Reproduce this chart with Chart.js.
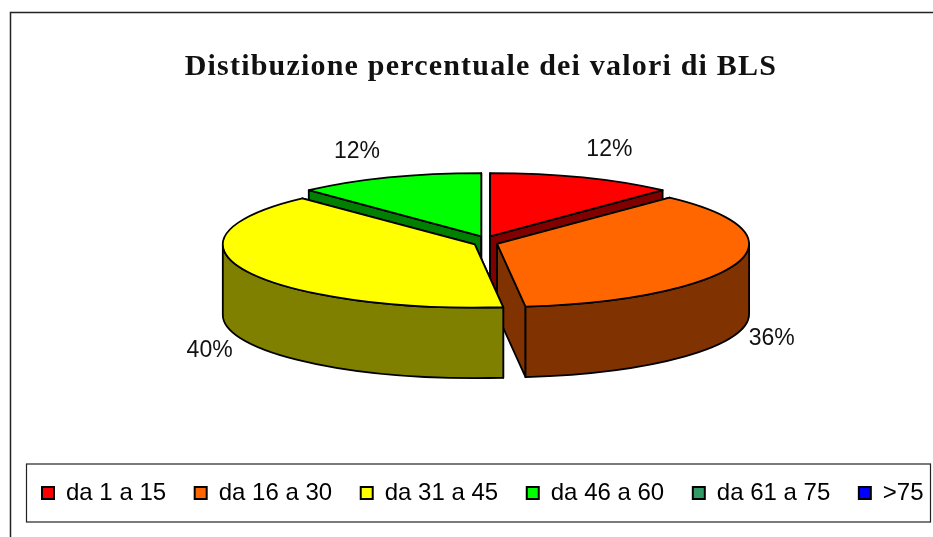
<!DOCTYPE html>
<html>
<head>
<meta charset="utf-8">
<style>
  html, body { margin: 0; padding: 0; background: #fff; }
  canvas { display: block; }
</style>
<script src="https://cdn.jsdelivr.net/npm/chart.js@4"></script>
</head>
<body>
<canvas id="graph" width="933" height="537"></canvas>
<script>
const categories = ['da 1 a 15', 'da 16 a 30', 'da 31 a 45', 'da 46 a 60', 'da 61 a 75', '>75'];
const percentages = [12, 36.2, 39.8, 12, 0, 0];
const sliceColors = ['#ff0000', '#ff6600', '#ffff00', '#00ff00', '#339966', '#0000ff'];
const wallColors = ['#800000', '#803300', '#808000', '#008000', '#1a4d33', '#000080'];
const chartTitle = 'Distibuzione percentuale dei valori di BLS';

// 3D look of the old office chart
const squash = 0.251;
const depth = 70.5;
const explodeY = 0.5;
const shiftX = 12.5;
const shiftY = -26.8;
const labelNudge = [[26.5, -28], [35.5, 75], [-36.5, 80], [-31.5, -26], [0, 0], [0, 0]];

function sliceGeometry(el) {
    const mid = (el.startAngle + el.endAngle) / 2;
    const off = el.options.offset / 4;
    return {
        x: el.x + shiftX + Math.cos(mid) * off,
        y: el.y + shiftY + Math.sin(mid) * off * explodeY,
        rx: el.outerRadius,
        ry: el.outerRadius * squash,
        mid: mid
    };
}

function paint(ctx, fill) {
    ctx.fillStyle = fill;
    ctx.fill();
    ctx.lineWidth = 1.8;
    ctx.strokeStyle = '#000';
    ctx.lineJoin = 'round';
    ctx.stroke();
}

function drawCutFace(ctx, g, angle, fill) {
    const rimX = g.x + Math.cos(angle) * g.rx;
    const rimY = g.y + Math.sin(angle) * g.ry;
    ctx.beginPath();
    ctx.moveTo(g.x, g.y);
    ctx.lineTo(rimX, rimY);
    ctx.lineTo(rimX, rimY + depth);
    ctx.lineTo(g.x, g.y + depth);
    ctx.closePath();
    paint(ctx, fill);
}

function drawOuterWall(ctx, g, el, fill) {
    const a1 = Math.max(el.startAngle, 0);
    const a2 = Math.min(el.endAngle, Math.PI);
    if (a2 <= a1) return;
    ctx.beginPath();
    ctx.ellipse(g.x, g.y, g.rx, g.ry, 0, a1, a2);
    ctx.ellipse(g.x, g.y + depth, g.rx, g.ry, 0, a2, a1, true);
    ctx.closePath();
    paint(ctx, fill);
}

const pie3d = {
    id: 'pie3d',
    beforeDraw(chart) {
        const ctx = chart.ctx;
        const legend = chart.legend;
        const hit = legend.legendHitBoxes[0];
        const midY = hit.top + hit.height / 2;
        ctx.save();
        ctx.strokeStyle = '#222';
        // outer frame, cut by the picture on the right and bottom
        ctx.lineWidth = 1.5;
        ctx.beginPath();
        ctx.moveTo(10.5, 537);
        ctx.lineTo(10.5, 12.5);
        ctx.lineTo(933, 12.5);
        ctx.stroke();
        // legend box
        ctx.lineWidth = 1.2;
        ctx.strokeRect(legend.left + 13.1, midY - 29, 904, 58);
        ctx.restore();

        // title is letter spaced in the original
        if (!chart.titleBlock.spaced) {
            const drawTitle = chart.titleBlock.draw;
            chart.titleBlock.spaced = true;
            chart.titleBlock.draw = function () {
                ctx.save();
                ctx.translate(-2.3, 0);
                ctx.letterSpacing = '1.2px';
                drawTitle.call(this);
                ctx.restore();
            };
        }
    },
    beforeDatasetsDraw(chart) {
        const ctx = chart.ctx;
        const arcs = chart.getDatasetMeta(0).data
            .map((el, i) => ({ el: el, i: i, g: sliceGeometry(el) }))
            .filter((s) => s.el.endAngle > s.el.startAngle);
        const backToFront = arcs.slice().sort((a, b) => Math.sin(a.g.mid) - Math.sin(b.g.mid));
        ctx.save();
        backToFront.forEach((s) => {
            drawCutFace(ctx, s.g, s.el.startAngle, wallColors[s.i]);
            drawCutFace(ctx, s.g, s.el.endAngle, wallColors[s.i]);
            drawOuterWall(ctx, s.g, s.el, wallColors[s.i]);
        });
        arcs.forEach((s) => {
            ctx.beginPath();
            ctx.moveTo(s.g.x, s.g.y);
            ctx.ellipse(s.g.x, s.g.y, s.g.rx, s.g.ry, 0, s.el.startAngle, s.el.endAngle);
            ctx.closePath();
            paint(ctx, sliceColors[s.i]);
        });
        ctx.font = '23px "Liberation Sans"';
        ctx.fillStyle = '#111';
        ctx.textAlign = 'center';
        ctx.textBaseline = 'middle';
        arcs.forEach((s) => {
            const x = s.g.x + Math.cos(s.g.mid) * s.g.rx + labelNudge[s.i][0];
            const y = s.g.y + Math.sin(s.g.mid) * s.g.ry + labelNudge[s.i][1];
            ctx.fillText(Math.round(percentages[s.i]) + '%', x, y);
        });
        ctx.restore();
        return false;
    }
};

new Chart(document.getElementById('graph').getContext('2d'), {
    type: 'pie',
    data: {
        labels: categories,
        datasets: [{
            data: percentages,
            backgroundColor: sliceColors,
            borderWidth: 0,
            offset: 48,
            radius: 252
        }]
    },
    plugins: [pie3d],
    options: {
        responsive: false,
        animation: false,
        events: [],
        layout: { padding: { left: 13.4, right: -20, top: 0, bottom: 22 } },
        plugins: {
            tooltip: { enabled: false },
            title: {
                display: true,
                text: chartTitle,
                color: '#111',
                font: { family: '"Liberation Serif"', size: 30, weight: 'bold', lineHeight: 1.2 },
                padding: { top: 49, bottom: 0 }
            },
            legend: {
                position: 'bottom',
                align: 'start',
                labels: {
                    color: '#111',
                    font: { family: '"Liberation Sans"', size: 24 },
                    boxWidth: 12,
                    boxHeight: 12,
                    padding: 28.6,
                    generateLabels: () => categories.map((text, i) => ({
                        text: text,
                        fillStyle: sliceColors[i],
                        strokeStyle: '#000',
                        lineWidth: 2,
                        index: i
                    }))
                }
            }
        }
    }
});
</script>
</body>
</html>
